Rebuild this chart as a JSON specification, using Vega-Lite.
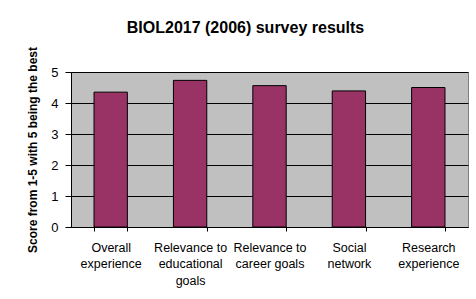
{
  "$schema": "https://vega.github.io/schema/vega-lite/v6.json",
  "autosize": {"type": "none"},
  "width": 397,
  "height": 155,
  "padding": {"left": 71, "top": 72, "right": 8, "bottom": 72},
  "background": "white",
  "title": {
    "text": "BIOL2017 (2006) survey results",
    "font": "Liberation Sans",
    "fontSize": 16,
    "fontWeight": "bold",
    "color": "black",
    "anchor": "middle",
    "frame": "group",
    "dx": -24,
    "dy": 3,
    "baseline": "alphabetic",
    "offset": 0
  },
  "data": {
    "values": [
      {"category": "Overall experience", "score": 4.35},
      {"category": "Relevance to educational goals", "score": 4.73},
      {"category": "Relevance to career goals", "score": 4.56},
      {"category": "Social network", "score": 4.39},
      {"category": "Research experience", "score": 4.5}
    ]
  },
  "mark": {"type": "bar", "color": "#993366", "stroke": "black", "strokeWidth": 1},
  "encoding": {
    "x": {
      "field": "category",
      "type": "nominal",
      "sort": null,
      "scale": {"paddingInner": 0.58, "paddingOuter": 0.29},
      "axis": {
        "title": null,
        "labelAngle": 0,
        "labelFont": "Liberation Sans",
        "labelFontSize": 12.5,
        "labelColor": "black",
        "labelBaseline": "top",
        "labelLineHeight": 16.5,
        "labelPadding": 10,
        "labelLimit": 0,
        "tickSize": 4,
        "tickBand": "extent",
        "tickColor": "black",
        "domainColor": "black",
        "grid": false,
        "labelExpr": "datum.value == 'Overall experience' ? ['Overall','experience'] : datum.value == 'Relevance to educational goals' ? ['Relevance to','educational','goals'] : datum.value == 'Relevance to career goals' ? ['Relevance to','career goals'] : datum.value == 'Social network' ? ['Social','network'] : datum.value == 'Research experience' ? ['Research','experience'] : ''"
      }
    },
    "y": {
      "field": "score",
      "type": "quantitative",
      "scale": {"domain": [0, 5], "nice": false},
      "axis": {
        "values": [0, 1, 2, 3, 4, 5],
        "title": "Score from 1-5 with 5 being the best",
        "titleFont": "Liberation Sans",
        "titleFontSize": 12,
        "titleFontWeight": "bold",
        "titleColor": "black",
        "titlePadding": 11,
        "labelFont": "Liberation Sans",
        "labelFontSize": 13,
        "labelColor": "black",
        "labelPadding": 7,
        "tickSize": 6,
        "tickColor": "black",
        "domainColor": "black",
        "grid": true,
        "gridColor": "black",
        "gridOpacity": 1,
        "gridWidth": 1
      }
    }
  },
  "config": {"view": {"fill": "#c0c0c0", "stroke": "#808080"}}
}
